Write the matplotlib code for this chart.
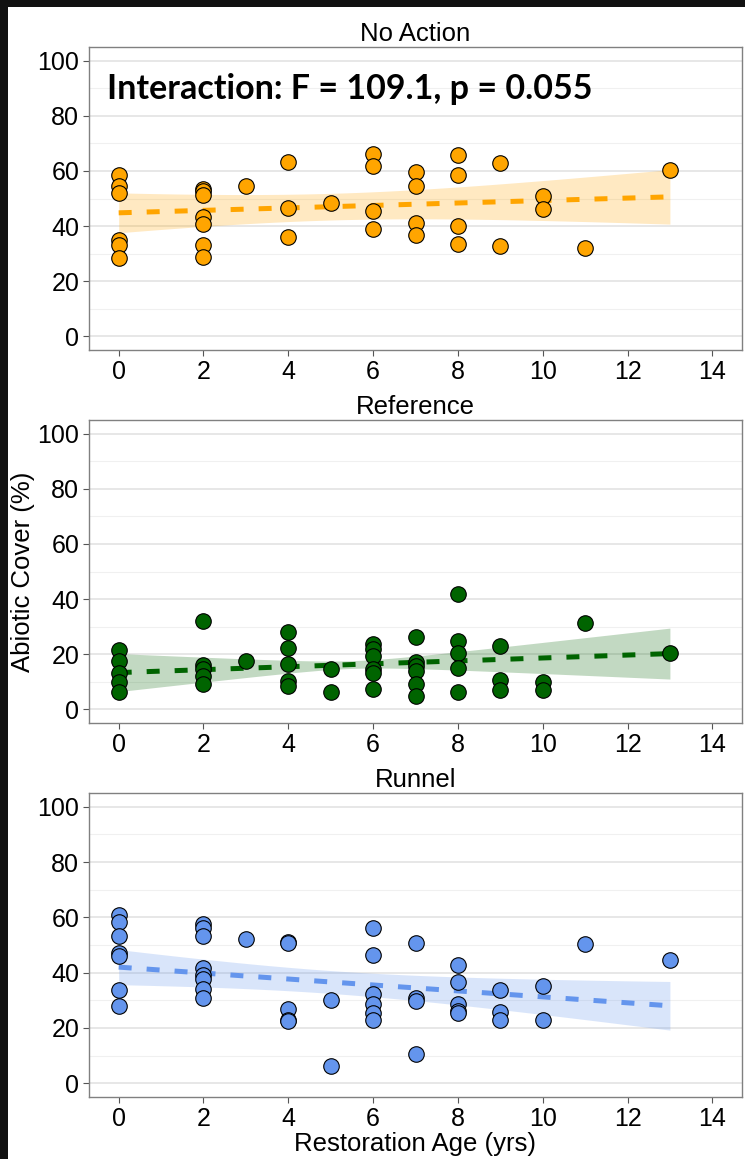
import numpy as np
import matplotlib
matplotlib.use("Agg")
import matplotlib.pyplot as plt
from matplotlib.patches import Rectangle

# Data
na_age = [0, 0, 0, 0, 0, 0,
          2, 2, 2, 2, 2, 2, 2,
          3,
          4, 4, 4,
          5,
          6, 6, 6, 6,
          7, 7, 7, 7,
          8, 8, 8, 8,
          9, 9,
          10, 10,
          11,
          13]
na_cover = [58.5, 54.5, 52.0, 35.0, 33.0, 28.3,
            53.4, 52.6, 51.4, 43.4, 40.6, 33.0, 28.9,
            54.4,
            63.2, 46.5, 36.1,
            48.2,
            66.0, 61.8, 45.6, 39.1,
            59.8, 54.4, 41.2, 36.6,
            65.8, 58.4, 40.0, 33.4,
            63.0, 32.6,
            50.8, 46.2,
            32.2,
            60.2]

ref_age = [0, 0, 0, 0, 0,
           2, 2, 2, 2, 2,
           3,
           4, 4, 4, 4, 4,
           5, 5,
           6, 6, 6, 6, 6, 6,
           7, 7, 7, 7, 7, 7,
           8, 8, 8, 8, 8,
           9, 9, 9,
           10, 10,
           11,
           13]
ref_cover = [21.6, 17.6, 13.1, 9.8, 6.3,
             32.0, 16.0, 14.5, 12.0, 9.2,
             17.6,
             28.0, 22.4, 16.4, 10.1, 8.3,
             14.7, 6.3,
             23.8, 21.8, 19.4, 14.5, 13.1, 7.5,
             26.4, 17.3, 15.8, 13.7, 9.2, 4.7,
             41.7, 24.8, 20.4, 14.9, 6.3,
             23.0, 10.7, 7.1,
             9.9, 7.1,
             31.4,
             20.4]

run_age = [0, 0, 0, 0, 0, 0, 0,
           2, 2, 2, 2, 2, 2, 2, 2,
           3,
           4, 4, 4, 4, 4,
           5, 5,
           6, 6, 6, 6, 6, 6,
           7, 7, 7, 7,
           8, 8, 8, 8, 8,
           9, 9, 9,
           10, 10,
           11,
           13]
run_cover = [60.8, 58.4, 53.4, 47.0, 46.1, 33.8, 28.1,
             57.5, 56.0, 53.3, 41.6, 39.0, 37.8, 34.1, 30.8,
             52.1,
             51.2, 50.8, 27.0, 23.0, 22.4,
             30.0, 6.2,
             56.0, 46.4, 32.3, 28.8, 25.4, 23.0,
             50.6, 30.8, 29.6, 10.4,
             42.8, 36.5, 28.8, 26.0, 25.4,
             33.6, 25.7, 22.8,
             35.0, 23.0,
             50.4,
             44.4]

# model fit: value at age 0 and 13, band half-width at 0 and 13
fit_start = [44.8, 13.3, 42.0]
fit_end = [50.6, 20.2, 28.0]
band_hw_start = [7.25, 6.9, 6.35]
band_hw_end = [9.9, 9.25, 8.8]

panel_titles = ["No Action", "Reference", "Runnel"]
panel_colors = ["#FFA500", "#006400", "#6495ED"]
x_ticks = [0, 2, 4, 6, 8, 10, 12, 14]
y_ticks = [0, 20, 40, 60, 80, 100]
annotation = "Interaction: F = 109.1, p = 0.055"

plt.rcParams["font.family"] = ["Liberation Sans", "DejaVu Sans"]

fig = plt.figure(figsize=(7.45, 11.59), dpi=100, facecolor="white")

W, H = 745.0, 1159.0
left_px, right_px = 89, 742
panel_px = [(47, 350), (420, 723), (793, 1097)]


def band(x, i, xs):
    # straight fitted line, hyperbolic confidence band around the data mean age
    x0, x1 = 0.0, 13.0
    yhat = fit_start[i] + (fit_end[i] - fit_start[i]) * (xs - x0) / (x1 - x0)
    xbar = np.mean(x)
    h0, h1 = band_hw_start[i], band_hw_end[i]
    d0, d1 = (x0 - xbar) ** 2, (x1 - xbar) ** 2
    b = (h1 ** 2 - h0 ** 2) / (d1 - d0)
    a = h0 ** 2 - b * d0
    hw = np.sqrt(np.maximum(a + b * (xs - xbar) ** 2, 0))
    return yhat, yhat - hw, yhat + hw


datasets = [(na_age, na_cover), (ref_age, ref_cover), (run_age, run_cover)]

axes = []
for i, ((top, bot), (xa, ya)) in enumerate(zip(panel_px, datasets)):
    ax = fig.add_axes([left_px / W, 1 - bot / H, (right_px - left_px) / W, (bot - top) / H])
    axes.append(ax)
    col = panel_colors[i]

    xs = np.linspace(min(xa), max(xa), 100)
    yhat, lo, hi = band(xa, i, xs)
    ax.fill_between(xs, lo, hi, color=col, alpha=0.24, lw=0, zorder=2)
    ax.plot(xs, yhat, color=col, lw=3.6, dashes=(2.6, 3.0), zorder=3)
    ax.scatter(xa, ya, s=125, facecolor=col, edgecolor="black", linewidth=0.8, zorder=4)

    ax.set_xlim(-0.7, 14.7)
    ax.set_ylim(-5, 105)
    ax.set_xticks(x_ticks)
    ax.set_yticks(y_ticks)
    ax.set_yticks(range(10, 100, 20), minor=True)
    ax.grid(axis="y", which="major", color="#e5e5e5", lw=1.3, zorder=0)
    ax.grid(axis="y", which="minor", color="#f0f0f0", lw=0.8, zorder=0)
    ax.set_axisbelow(True)
    ax.tick_params(axis="both", which="major", labelsize=18, length=4, width=0.8,
                   color="#555555", labelcolor="black", pad=3)
    ax.tick_params(axis="y", which="minor", length=0)
    for sp in ax.spines.values():
        sp.set_color("#808080")
        sp.set_linewidth(1.0)
    ax.set_title(panel_titles[i], fontsize=18.5, pad=4)

axes[0].text(-0.28, 86, annotation, fontsize=24.5, fontweight="bold",
             family=["Lato", "DejaVu Sans"], ha="left", va="baseline", zorder=5)
axes[1].set_ylabel("Abiotic Cover (%)", fontsize=18.5)
axes[1].yaxis.set_label_coords(-0.082, 0.5)
axes[2].set_xlabel("Restoration Age (yrs)", fontsize=18.5, labelpad=1)

# dark frame along the top and left edges of the screenshot
fig.patches.append(Rectangle((0, 1 - 7 / H), 1, 7 / H, transform=fig.transFigure,
                             facecolor="#111111", edgecolor="none", zorder=10))
fig.patches.append(Rectangle((0, 0), 8 / W, 1, transform=fig.transFigure,
                             facecolor="#111111", edgecolor="none", zorder=10))

fig.savefig("out.png", dpi=100, facecolor="white")
